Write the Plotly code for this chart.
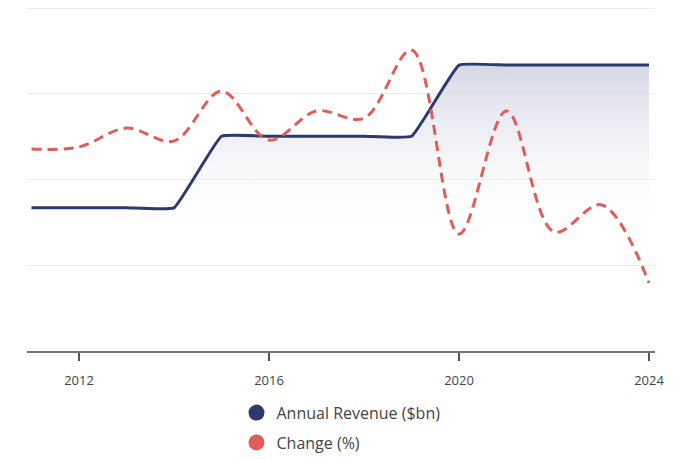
import plotly.graph_objects as go

years = list(range(2011, 2025))
revenue = [33.4, 33.4, 33.4, 33.4, 50.1, 50.1, 50.1, 50.1, 50.1, 66.7, 66.7, 66.7, 66.7, 66.7]
change = [7.1, 7.6, 12.0, 9.0, 20.6, 9.2, 16.0, 14.3, 30.2, -12.7, 16.0, -12.2, -5.9, -24.1]
tick_vals = [2012, 2016, 2020, 2024]
tick_text = ["2012", "2016", "2020", "2024"]

NAVY = "#2d3a6b"
RED = "#e05d59"
FONT = "Open Sans"

fig = go.Figure()

fig.add_trace(go.Scatter(
    x=years, y=revenue, mode="lines", name="Annual Revenue ($bn)",
    line=dict(color=NAVY, width=3, shape="spline", smoothing=0.3),
    fill="tozeroy",
    fillgradient=dict(type="vertical", start=25, stop=68,
                      colorscale=[[0, "rgba(255,255,255,0)"], [1, "rgba(205,208,225,0.9)"]]),
    showlegend=False, hoverinfo="skip",
))

fig.add_trace(go.Scatter(
    x=years, y=change, mode="lines", name="Change (%)", yaxis="y2",
    line=dict(color=RED, width=3, shape="spline", smoothing=1, dash="10px,6px"),
    showlegend=False,
))

# legend entries (circle markers)
fig.add_trace(go.Scatter(x=[None], y=[None], mode="markers", name="Annual Revenue ($bn)",
                         marker=dict(color=NAVY, size=16), legendgroup="a"))
fig.add_trace(go.Scatter(x=[None], y=[None], mode="markers", name="Change (%)",
                         marker=dict(color=RED, size=16), legendgroup="b"))

fig.update_layout(
    width=700, height=459,
    margin=dict(l=27, r=45, t=7, b=108, autoexpand=False),
    paper_bgcolor="white", plot_bgcolor="white",
    font=dict(family=FONT, color="#444"),
    xaxis=dict(range=[2010.905, 2024.126], tickvals=tick_vals, ticktext=tick_text,
               showgrid=False, zeroline=False, showline=True, linecolor="#7a7570", linewidth=2,
               ticks="outside", ticklen=8, tickcolor="#555", tickwidth=1.5,
               ticklabelstandoff=8, automargin=False,
               tickfont=dict(size=13, color="#444")),
    yaxis=dict(range=[0, 80.25], dtick=20, showticklabels=False, showgrid=True,
               gridcolor="#ececec", gridwidth=1, zeroline=False, showline=False, automargin=False),
    yaxis2=dict(range=[-40, 40.25], overlaying="y", side="right", showticklabels=False,
                showgrid=False, zeroline=False, showline=False, automargin=False),
    legend=dict(orientation="v", x=0.5, xanchor="center", y=-0.13, yanchor="top",
                font=dict(size=16, color="#444"), tracegroupgap=6, traceorder="grouped",
                itemsizing="trace"),
    hovermode=False,
)

fig.write_html("out.html", config={"displayModeBar": False},
               post_script="document.body.style.margin='0';document.body.style.overflow='hidden';")
